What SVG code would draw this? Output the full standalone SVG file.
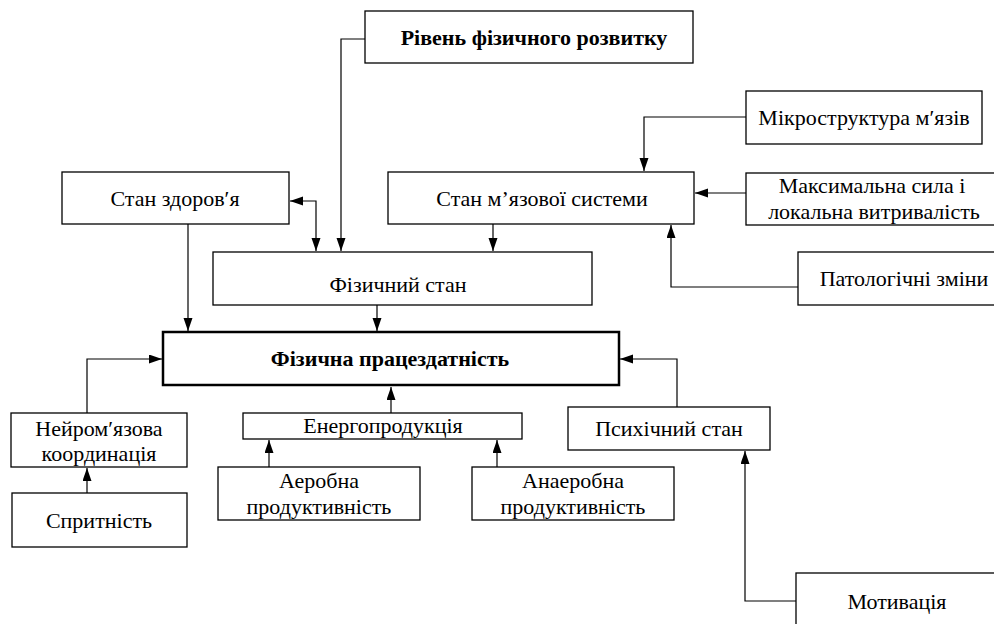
<svg xmlns="http://www.w3.org/2000/svg" width="994" height="624" viewBox="0 0 994 624">
<style>
.box{fill:#fff;stroke:#000;stroke-width:1.3}
.main{fill:#fff;stroke:#000;stroke-width:2.5}
.t{font-family:"Liberation Serif","Times New Roman",Times,serif;font-size:22px;fill:#000;text-anchor:middle}
.b{font-weight:bold}
.c{fill:none;stroke:#000;stroke-width:1.2}
</style>
<defs>
<marker id="ah" markerUnits="userSpaceOnUse" markerWidth="13" markerHeight="10" refX="13" refY="4.5" orient="auto-start-reverse">
<path d="M0,0 L13,4.5 L0,9 z" fill="#000"/>
</marker>
</defs>
<rect width="994" height="624" fill="#fff"/>
<g id="connectors">
<path class="c" d="M365,39 H341 V251" marker-end="url(#ah)"/>
<path class="c" d="M290,201 H316 V251" marker-start="url(#ah)" marker-end="url(#ah)"/>
<path class="c" d="M188,224 V331" marker-end="url(#ah)"/>
<path class="c" d="M493,224 V251" marker-end="url(#ah)"/>
<path class="c" d="M746,117 H644 V171" marker-end="url(#ah)"/>
<path class="c" d="M746,193 H695" marker-end="url(#ah)"/>
<path class="c" d="M798,287 H671 V225" marker-end="url(#ah)"/>
<path class="c" d="M377,305 V331" marker-end="url(#ah)"/>
<path class="c" d="M87,413 V359 H162" marker-end="url(#ah)"/>
<path class="c" d="M87,493 V468" marker-end="url(#ah)"/>
<path class="c" d="M391,413 V387" marker-end="url(#ah)"/>
<path class="c" d="M269,467 V440" marker-end="url(#ah)"/>
<path class="c" d="M497,467 V440" marker-end="url(#ah)"/>
<path class="c" d="M677,407 V359 H620" marker-end="url(#ah)"/>
<path class="c" d="M796,601 H745 V451" marker-end="url(#ah)"/>
</g>
<g id="rozvytok">
<rect class="box" x="365" y="11" width="328" height="52"/>
<text class="t b" x="534" y="45">Рівень фізичного розвитку</text>
</g>
<g id="zdorovya">
<rect class="box" x="62" y="172" width="227" height="52"/>
<text class="t" x="175" y="206">Стан здоров′я</text>
</g>
<g id="myazova">
<rect class="box" x="388" y="172" width="306" height="52"/>
<text class="t" x="542" y="206">Стан м’язової системи</text>
</g>
<g id="mikrostruktura">
<rect class="box" x="746" y="91" width="236" height="53"/>
<text class="t" x="864" y="125">Мікроструктура м′язів</text>
</g>
<g id="maksymalna">
<rect class="box" x="746" y="173" width="260" height="52"/>
<text class="t" x="872" y="193">Максимальна сила і</text>
<text class="t" x="874" y="219">локальна витривалість</text>
</g>
<g id="patologichni">
<rect class="box" x="798" y="252" width="210" height="53"/>
<text class="t" x="904" y="286">Патологічні зміни</text>
</g>
<g id="fizychnyi-stan">
<rect class="box" x="213" y="252" width="379" height="53"/>
<text class="t" x="398" y="292">Фізичний стан</text>
</g>
<g id="pratsezdatnist">
<rect class="main" x="163" y="332" width="456" height="53"/>
<text class="t b" x="390" y="366">Фізична працездатність</text>
</g>
<g id="neiromyazova">
<rect class="box" x="11" y="413" width="176" height="54"/>
<text class="t" x="99" y="436">Нейром′язова</text>
<text class="t" x="99" y="461">координація</text>
</g>
<g id="spryt">
<rect class="box" x="12" y="493" width="175" height="54"/>
<text class="t" x="99" y="528">Спритність</text>
</g>
<g id="energo">
<rect class="box" x="243" y="413" width="279" height="26"/>
<text class="t" x="383" y="433">Енергопродукція</text>
</g>
<g id="aerobna">
<rect class="box" x="218" y="467" width="202" height="53"/>
<text class="t" x="319" y="488">Аеробна</text>
<text class="t" x="319" y="514">продуктивність</text>
</g>
<g id="anaerobna">
<rect class="box" x="472" y="467" width="202" height="53"/>
<text class="t" x="573" y="488">Анаеробна</text>
<text class="t" x="573" y="514">продуктивність</text>
</g>
<g id="psykhichnyi">
<rect class="box" x="568" y="407" width="202" height="43"/>
<text class="t" x="669" y="436">Психічний стан</text>
</g>
<g id="motyvatsiya">
<rect class="box" x="796" y="573" width="210" height="60"/>
<text class="t" x="897" y="609">Мотивація</text>
</g>
</svg>
